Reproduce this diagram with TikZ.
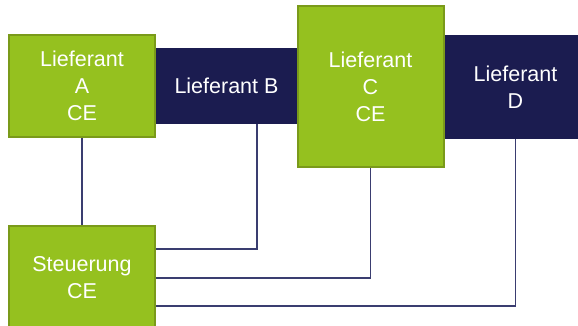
\documentclass[tikz,border=0pt]{standalone}
\usepackage{fontspec}
\setmainfont{Liberation Sans}
\definecolor{lgreen}{HTML}{95C11F}
\definecolor{dgreen}{HTML}{7A9A1A}
\definecolor{navy}{HTML}{1B1C50}
\definecolor{wire}{HTML}{3A3D70}
\begin{document}
\begin{tikzpicture}[x=1pt,y=-1pt,
  box/.style={draw, line width=2pt, inner sep=0pt, align=center, text=white,
    font=\fontsize{21.5}{27}\selectfont},
  greenbox/.style={box, fill=lgreen, draw=dgreen},
  navybox/.style={box, fill=navy, draw=navy},
  wirestyle/.style={draw=wire, line width=1.2pt}]
\useasboundingbox (0,0) rectangle (578,326);
\clip (0,0) rectangle (578,326);
\node[navybox, minimum width=143pt, minimum height=74pt] (B) at (226.5,86) {Lieferant B};
\node[navybox, minimum width=145pt, minimum height=102pt] (D) at (515.5,87) {Lieferant\\D};
\node[greenbox, minimum width=146pt, minimum height=102pt] (A) at (82,86) {Lieferant\\A\\CE};
\node[greenbox, minimum width=146pt, minimum height=161pt] (C) at (370.5,86.5) {Lieferant\\C\\CE};
\node[greenbox, minimum width=146pt, minimum height=104pt] (S) at (82,278) {Steuerung\\CE};
\draw[wirestyle] (A.south) -- (S.north);
\draw[wirestyle] ([xshift=30.5pt]B.south) |- ([yshift=29pt]S.east);
\draw[wirestyle] (C.south) |- (S.east);
\draw[wirestyle] (D.south) |- ([yshift=-28pt]S.east);
\end{tikzpicture}
\end{document}
